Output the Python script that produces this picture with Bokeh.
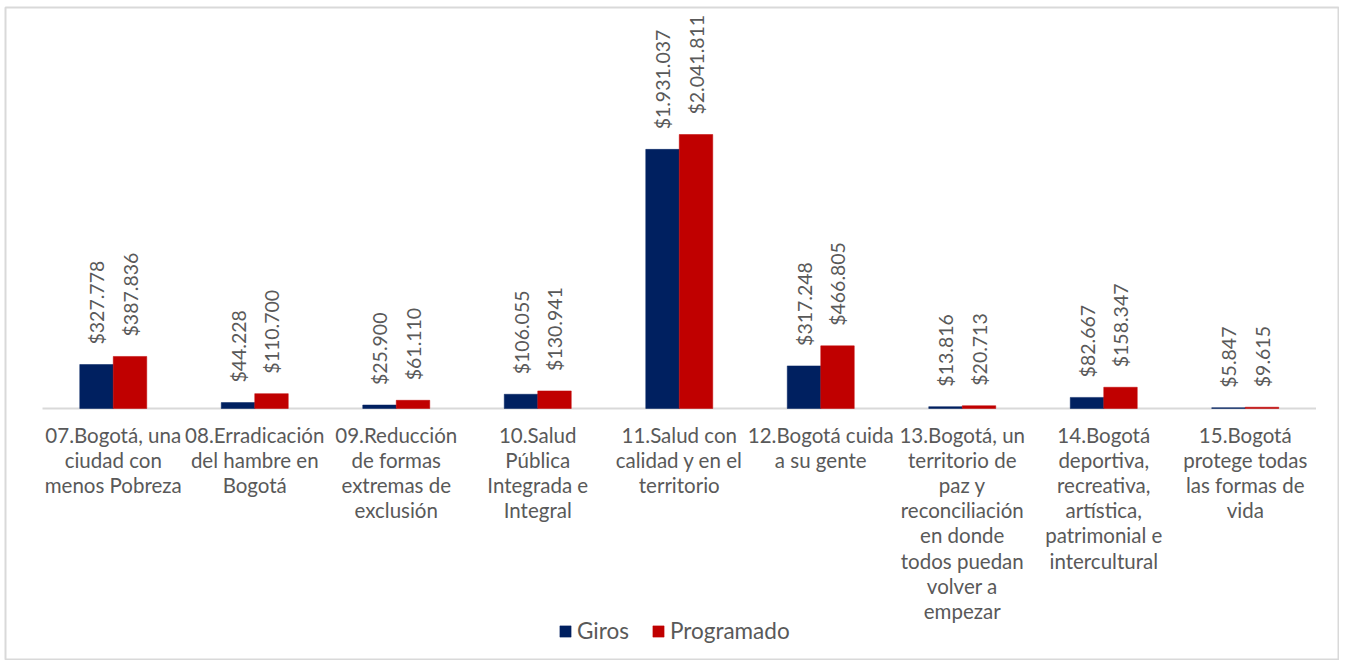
import math
from bokeh.plotting import figure
from bokeh.models import ColumnDataSource, Range1d
from bokeh.core.properties import value
from bokeh.embed import file_html
from bokeh.resources import INLINE

categories = [
    "07.Bogotá, una\nciudad con\nmenos Pobreza",
    "08.Erradicación\ndel hambre en\nBogotá",
    "09.Reducción\nde formas\nextremas de\nexclusión",
    "10.Salud\nPública\nIntegrada e\nIntegral",
    "11.Salud con\ncalidad y en el\nterritorio",
    "12.Bogotá cuida\na su gente",
    "13.Bogotá, un\nterritorio de\npaz y\nreconciliación\nen donde\ntodos puedan\nvolver a\nempezar",
    "14.Bogotá\ndeportiva,\nrecreativa,\nartística,\npatrimonial e\nintercultural",
    "15.Bogotá\nprotege todas\nlas formas de\nvida",
]
giros = [327778, 44228, 25900, 106055, 1931037, 317248, 13816, 82667, 5847]
programado = [387836, 110700, 61110, 130941, 2041811, 466805, 20713, 158347, 9615]
series_names = ["Giros", "Programado"]
series_colors = ["#002060", "#C00000"]

# layout (pixels)
BL, BT = 5, 7            # min borders left / top
W, H = 1339, 660
FW, FH = W - BL, H - BT  # frame size
cat_px = 141.5
left_pad = 42 - BL
right_pad = FW - left_pad - 9 * cat_px
base_from_top = 408 - BT
max_bar_px = 274.0

n = len(categories)
scale = max(max(giros), max(programado)) / max_bar_px
x_start = -left_pad / cat_px
x_end = n + right_pad / cat_px
y_end = base_from_top * scale
y_start = -(FH - base_from_top) * scale

p = figure(width=W, height=H, output_backend="svg", toolbar_location=None,
           x_range=Range1d(x_start, x_end), y_range=Range1d(y_start, y_end),
           x_axis_location=None, y_axis_location=None,
           min_border_left=BL, min_border_top=BT, min_border_right=0, min_border_bottom=0)
p.xgrid.visible = False
p.ygrid.visible = False
p.outline_line_color = "#D9D9D9"
p.outline_line_width = 2
p.background_fill_color = "white"
p.border_fill_color = "white"

bw = 33.5 / cat_px
centers = [i + 0.5 for i in range(n)]

FONT = value("Lato")
TXT = "#595959"
FS = "20.5px"

# baseline
p.segment(x0=[0], y0=[0], x1=[n], y1=[0], line_color="#D9D9D9", line_width=2)

for k, (name, vals, col) in enumerate(zip(series_names, [giros, programado], series_colors)):
    off = (k - 0.5) * bw
    xs = [c + off for c in centers]
    src = ColumnDataSource(dict(x=xs, top=vals,
                                lab=["$" + f"{v:,}".replace(",", ".") for v in vals]))
    p.vbar(x="x", top="top", bottom=0, width=bw, source=src, fill_color=col,
           line_color=col, line_width=0.5, legend_label=name)
    p.text(x="x", y="top", text="lab", source=src, angle=math.pi / 2,
           text_align="left", text_baseline="middle", y_offset=-20,
           text_font=FONT, text_font_size="19.5px", text_color=TXT)

csrc = ColumnDataSource(dict(x=centers, y=[0] * n, t=categories))
p.text(x="x", y="y", text="t", source=csrc, text_align="center",
       text_baseline="top", y_offset=14, text_font=FONT, text_font_size=FS,
       text_color=TXT, text_line_height=1.05)

lg = p.legend[0]
lg.orientation = "horizontal"
lg.location = (553, 16)
lg.border_line_color = None
lg.background_fill_alpha = 0
lg.padding = 0
lg.margin = 0
lg.spacing = 22
lg.glyph_width = 14
lg.glyph_height = 14
lg.label_standoff = 5
lg.label_text_font = "Lato"
lg.label_text_font_size = "22.5px"
lg.label_text_color = TXT

open("out.html", "w").write(file_html(p, INLINE))
